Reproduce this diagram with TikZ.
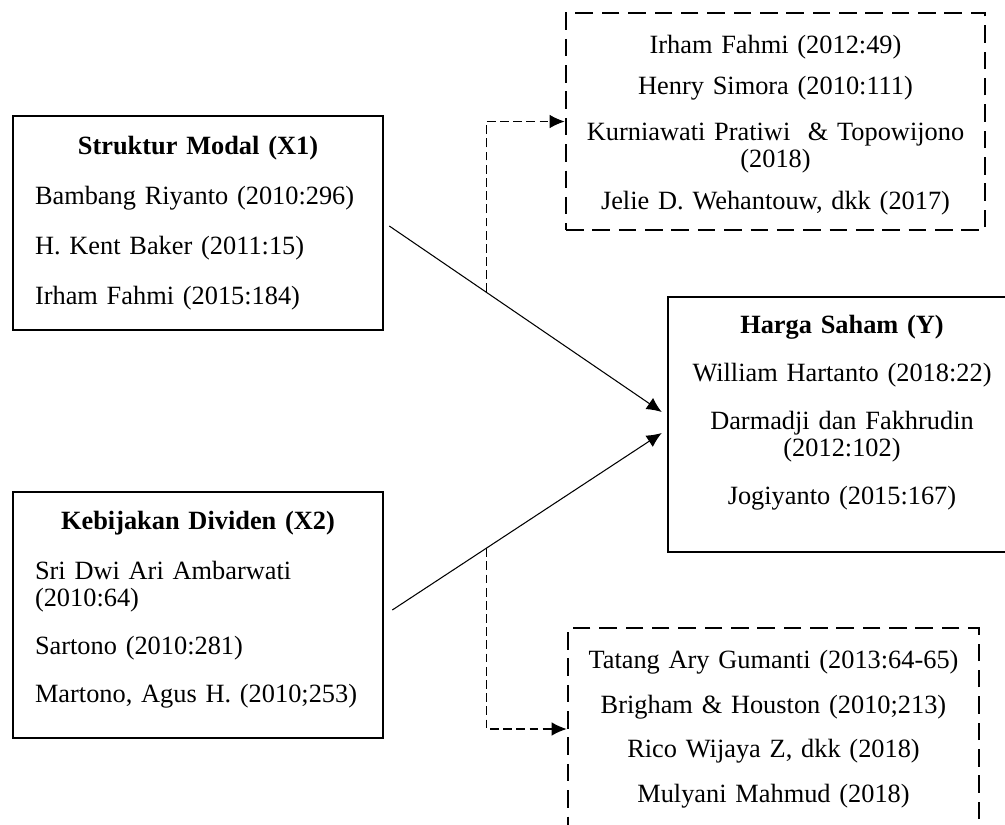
\documentclass[tikz,border=0pt]{standalone}
\usepackage{fontspec}
\setmainfont{Liberation Serif}
\usetikzlibrary{arrows.meta}

% invisible spacers that keep room above the first or below the last line of a box
\newcommand{\headgap}[1]{\hrule height 0pt\vspace{#1}}
\newcommand{\tailgap}[1]{\par\vspace{#1}\hrule height 0pt}

\begin{document}
\begin{tikzpicture}[x = 0.02cm, y = -0.02cm, > = {Latex[length = 3mm, width = 2.7mm]},
	every node/.style = {font = \fontsize{15pt}{15.36pt}\selectfont, inner ysep = 0pt},
	varbox/.style = {draw, line width = 1.5pt, inner xsep = 0.44cm},
	refbox/.style = {draw, line width = 1.6pt, dash pattern = on 10pt off 5pt, align = center},
	effect/.style = {->, line width = 0.6pt},
	moderate/.style = {->, line width = 0.6pt, dash pattern = on 5pt off 2.5pt}]

	\path [use as bounding box, clip] (0, 0) rectangle (1005, 825);

	% Independent variables

	\node [varbox, text width = 6.52cm, minimum height = 4.28cm, align = left] (x1) at (198, 223) {%
		{\centering\bfseries Struktur Modal (X1)\par}\vspace{13pt}
		Bambang Riyanto (2010:296)\\[13pt]
		H. Kent Baker (2011:15)\\[13pt]
		Irham Fahmi (2015:184)};

	\node [varbox, text width = 6.52cm, minimum height = 4.92cm, align = left] (x2) at (198, 615) {%
		{\centering\bfseries Kebijakan Dividen (X2)\par}\vspace{13pt}
		Sri Dwi Ari Ambarwati\\(2010:64)\\[12pt]
		Sartono (2010:281)\\[12pt]
		Martono, Agus H. (2010;253)\tailgap{5.7pt}};

	% Dependent variable

	\node [varbox, text width = 6.4cm, inner xsep = 0.28cm, minimum height = 5.1cm, align = center] (y) at (842, 424.5) {%
		\textbf{Harga Saham (Y)}\\[12pt]
		William Hartanto (2018:22)\\[12pt]
		Darmadji dan Fakhrudin\\(2012:102)\\[12pt]
		Jogiyanto (2015:167)\tailgap{13.7pt}};

	% Supporting references

	\node [refbox, text width = 7.6cm, inner xsep = 0.39cm, minimum height = 4.34cm] (refx1) at (775.5, 121.5) {%
		\headgap{4pt}Irham Fahmi (2012:49)\\[8pt]
		Henry Simora (2010:111)\\[11pt]
		Kurniawati Pratiwi~ \& Topowijono\\(2018)\\[8.6pt]
		Jelie D. Wehantouw, dkk (2017)};

	\node [refbox, text width = 7.6cm, inner xsep = 0.31cm, minimum height = 4.04cm] (refx2) at (773.5, 729) {%
		Tatang Ary Gumanti (2013:64-65)\\[10pt]
		Brigham \& Houston (2010;213)\\[10pt]
		Rico Wijaya Z, dkk (2018)\\[10pt]
		Mulyani Mahmud (2018)};

	% Effects on the share price

	\draw [effect] ([xshift = 0.1cm, yshift = -0.06cm] x1.east) -- coordinate [pos = 0.356] (m1) ([xshift = -0.1cm, yshift = 0.25cm] y.west);
	\draw [effect] ([xshift = 0.16cm, yshift = 0.1cm] x2.east) -- coordinate [pos = 0.349] (m2) ([xshift = -0.1cm, yshift = -0.17cm] y.west);

	% Links to the references

	\draw [moderate] (m1) |- (refx1.west);
	\draw [moderate] (m2) |- (refx2.west);

\end{tikzpicture}
\end{document}
